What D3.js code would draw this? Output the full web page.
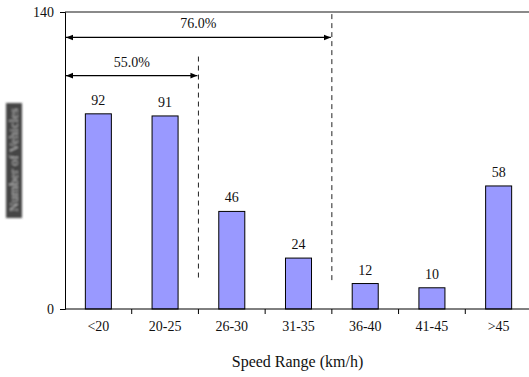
<!DOCTYPE html>
<html>
<head>
<meta charset="utf-8">
<script src="https://cdn.jsdelivr.net/npm/d3@7"></script>
<style>
  html, body { margin: 0; padding: 0; background: #fff; }
  svg { display: block; }
  svg text { font-family: "Liberation Serif", "Times New Roman", serif; }
</style>
</head>
<body>
<div id="chart"></div>
<script>
// Vehicle counts per speed range
const categories = ["<20", "20-25", "26-30", "31-35", "36-40", "41-45", ">45"];
const counts = [92, 91, 46, 24, 12, 10, 58];
const yTicks = [0, 140];
// Cumulative share brackets: label, last category covered
const brackets = [
  { label: "76.0%", upTo: "31-35", level: 128, dashTop: 139 },
  { label: "55.0%", upTo: "20-25", level: 110, dashTop: 119 }
];
const dashBottom = 13.5;
const xTitle = "Speed Range (km/h)";
const yTitle = "Number of Vehicles";

const W = 529, H = 377;
const plotLeft = 65, plotTop = 12, plotBottom = 309;
const FS = 14;

const svg = d3.select("#chart").append("svg")
  .attr("width", W).attr("height", H);

const defs = svg.append("defs");
defs.append("filter").attr("id", "soft")
  .append("feGaussianBlur").attr("stdDeviation", 1.1);
const mk = defs.append("marker").attr("id", "ah")
  .attr("viewBox", "0 0 10 10").attr("refX", 10).attr("refY", 5)
  .attr("markerWidth", 7).attr("markerHeight", 7).attr("orient", "auto-start-reverse")
  .attr("markerUnits", "userSpaceOnUse");
mk.append("path").attr("d", "M0,1 L10,5 L0,9 Z").attr("fill", "#000");

const x = d3.scaleBand().domain(categories)
  .range([plotLeft, 532]).paddingInner(0.61).paddingOuter(0.305);
const y = d3.scaleLinear().domain([0, 140]).range([plotBottom, plotTop]);
const step = x.step();
const edge = c => x(c) - step * x.paddingInner() / 2;   // left boundary of a category slot

// top frame line
svg.append("line")
  .attr("x1", plotLeft).attr("x2", W).attr("y1", y(140)).attr("y2", y(140))
  .attr("stroke", "#8a8a8a").attr("stroke-width", 2);

// bars
svg.append("g").selectAll("rect").data(counts).join("rect")
  .attr("x", (d, i) => x(categories[i]))
  .attr("y", d => y(d))
  .attr("width", x.bandwidth())
  .attr("height", d => y(0) - y(d))
  .attr("fill", "#9999ff")
  .attr("stroke", "#000").attr("stroke-width", 1);

// value labels
svg.append("g").selectAll("text").data(counts).join("text")
  .attr("x", (d, i) => x(categories[i]) + x.bandwidth() / 2)
  .attr("y", d => y(d) - 9)
  .attr("text-anchor", "middle")
  .attr("font-size", FS)
  .attr("fill", "#111")
  .text(d => d);

// y axis
const yAxis = d3.axisLeft(y).tickValues(yTicks).tickSize(5).tickPadding(6);
const gy = svg.append("g").attr("transform", `translate(${plotLeft},0)`).call(yAxis);
gy.select(".domain").attr("stroke", "#000");
gy.selectAll("text").attr("font-size", FS).attr("font-family", null).attr("fill", "#111");

// x axis: labels centred in slots, ticks on slot boundaries
const xAxis = d3.axisBottom(x).tickSize(0).tickPadding(12);
const gx = svg.append("g").attr("transform", `translate(0,${plotBottom})`).call(xAxis);
gx.select(".domain").remove();
gx.selectAll("text").attr("font-size", FS).attr("font-family", null).attr("fill", "#111");
svg.append("line").attr("x1", plotLeft).attr("x2", W).attr("y1", plotBottom).attr("y2", plotBottom)
  .attr("stroke", "#000");
svg.append("g").selectAll("line").data(categories.slice(1)).join("line")
  .attr("x1", c => edge(c)).attr("x2", c => edge(c))
  .attr("y1", plotBottom).attr("y2", plotBottom + 5)
  .attr("stroke", "#000");

// cumulative brackets
brackets.forEach(b => {
  const idx = categories.indexOf(b.upTo);
  const xr = idx + 1 < categories.length ? edge(categories[idx + 1]) : 532;
  svg.append("line")
    .attr("x1", xr).attr("x2", xr)
    .attr("y1", y(b.dashTop)).attr("y2", y(dashBottom))
    .attr("stroke", "#222").attr("stroke-width", 1)
    .attr("stroke-dasharray", "5,4");
  svg.append("line")
    .attr("x1", plotLeft + 1).attr("x2", xr - 1)
    .attr("y1", y(b.level)).attr("y2", y(b.level))
    .attr("stroke", "#000").attr("stroke-width", 1.3)
    .attr("marker-start", "url(#ah)").attr("marker-end", "url(#ah)");
  svg.append("text")
    .attr("x", (plotLeft + xr) / 2).attr("y", y(b.level) - 9)
    .attr("text-anchor", "middle").attr("font-size", FS).attr("fill", "#111")
    .text(b.label);
});

// axis titles
svg.append("text")
  .attr("x", (plotLeft + 532) / 2 - 1).attr("y", 367)
  .attr("text-anchor", "middle").attr("font-size", 16).attr("fill", "#111")
  .text(xTitle);

const yt = svg.append("g").attr("filter", "url(#soft)");
yt.append("rect").attr("x", 6).attr("y", 103).attr("width", 16).attr("height", 115)
  .attr("fill", "#444");
yt.append("text")
  .attr("transform", "translate(18,160) rotate(-90)")
  .attr("text-anchor", "middle").attr("font-size", 13)
  .attr("fill", "#bbb")
  .text(yTitle);
</script>
</body>
</html>
